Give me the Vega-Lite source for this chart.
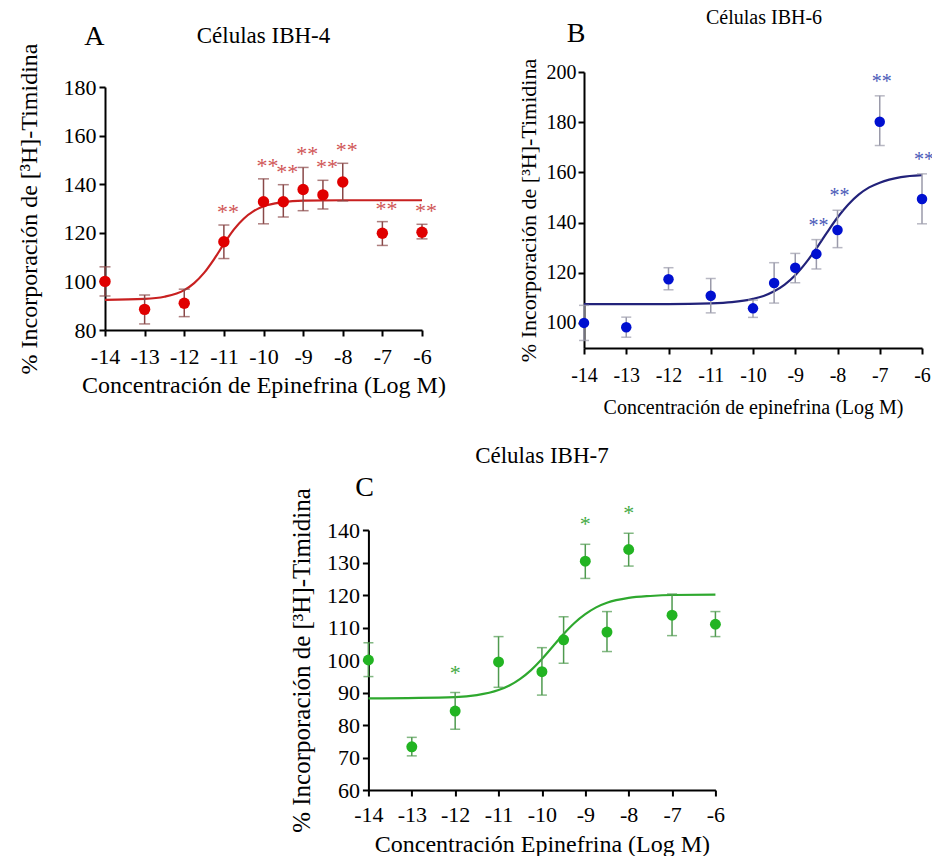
{
  "$schema": "https://vega.github.io/schema/vega-lite/v6.json",
  "padding": {"left": 16, "top": 0, "right": 0, "bottom": 0},
  "config": {
    "font": "Liberation Serif",
    "view": {"stroke": null},
    "axis": {"domainColor": "black", "domainWidth": 2, "tickColor": "black", "tickWidth": 2, "tickSize": 6, "labelColor": "black", "titleColor": "black", "grid": false, "labelFontWeight": "normal", "titleFontWeight": "normal", "labelFont": "Liberation Serif", "titleFont": "Liberation Serif"},
    "title": {"font": "Liberation Serif", "fontWeight": "normal", "color": "black"},
    "text": {"font": "Liberation Serif"}
  },
  "vconcat": [
    {
      "hconcat": [
        {
          "width": 317,
          "height": 243,
          "title": {"text": "Células IBH-4", "fontSize": 23, "offset": -25},
          "data": {"values": [
            {"c": -14, "m": 100, "lo": 94, "hi": 106, "s": ""},
            {"c": -13, "m": 88.5, "lo": 82.5, "hi": 94.4, "s": ""},
            {"c": -12, "m": 91, "lo": 85.5, "hi": 96.8, "s": ""},
            {"c": -11, "m": 116.3, "lo": 109.4, "hi": 123.2, "s": "**"},
            {"c": -10, "m": 132.8, "lo": 123.7, "hi": 142.2, "s": "**"},
            {"c": -9.5, "m": 132.8, "lo": 126.5, "hi": 139.8, "s": "**"},
            {"c": -9, "m": 137.8, "lo": 129.1, "hi": 146.9, "s": "**"},
            {"c": -8.5, "m": 135.6, "lo": 129.8, "hi": 141.6, "s": "**"},
            {"c": -8, "m": 140.9, "lo": 133.1, "hi": 148.6, "s": "**"},
            {"c": -7, "m": 119.8, "lo": 114.8, "hi": 124.6, "s": "**"},
            {"c": -6, "m": 120.2, "lo": 117.5, "hi": 123.5, "s": "**"}
          ]},
          "encoding": {
            "x": {"field": "c", "type": "quantitative", "scale": {"domain": [-14, -6], "nice": false, "zero": false},
              "axis": {"values": [-14, -13, -12, -11, -10, -9, -8, -7, -6], "labelExpr": "'' + datum.value", "labelFont": "Liberation Serif", "labelFontSize": 22, "labelPadding": 10, "labelOverlap": false, "labelFlush": false, "title": ["Concentración de Epinefrina (Log M)", ""], "titleLineHeight": 5, "titleFont": "Liberation Serif", "titleFontSize": 24, "titlePadding": 6}},
            "y": {"field": "m", "type": "quantitative", "scale": {"domain": [80, 180], "nice": false, "zero": false},
              "axis": {"values": [80, 100, 120, 140, 160, 180], "labelFont": "Liberation Serif", "labelFontSize": 22, "labelPadding": 3, "labelOverlap": false, "labelFlush": false, "title": "% Incorporación de [³H]-Timidina", "titleFont": "Liberation Serif", "titleFontSize": 24, "titlePadding": 22}}
          },
          "layer": [
            {
              "data": {"values": [
                {"c": -14, "m": 92.4}, {"c": -13, "m": 92.8}, {"c": -12.5, "m": 93.7}, {"c": -12, "m": 96.4},
                {"c": -11.75, "m": 99.3}, {"c": -11.5, "m": 103.5}, {"c": -11.25, "m": 109.1}, {"c": -11, "m": 115.4},
                {"c": -10.75, "m": 121.3}, {"c": -10.5, "m": 125.8}, {"c": -10.25, "m": 128.9}, {"c": -10, "m": 130.9},
                {"c": -9.5, "m": 132.6}, {"c": -9, "m": 133.2}, {"c": -8, "m": 133.4}, {"c": -7, "m": 133.4}, {"c": -6, "m": 133.4}
              ]},
              "mark": {"type": "line", "interpolate": "monotone", "color": "#c82020", "strokeWidth": 2.2},
              "encoding": {}
            },
            {
              "mark": {"type": "errorbar", "ticks": {"size": 11}, "color": "#8a4848", "thickness": 1.5},
              "encoding": {
                "y": {"field": "lo", "type": "quantitative", "scale": {"domain": [80, 180], "nice": false, "zero": false},
                  "axis": {"values": [80, 100, 120, 140, 160, 180], "labelFont": "Liberation Serif", "labelFontSize": 22, "labelPadding": 3, "labelOverlap": false, "labelFlush": false, "title": "% Incorporación de [³H]-Timidina", "titleFont": "Liberation Serif", "titleFontSize": 24, "titlePadding": 22}},
                "y2": {"field": "hi"}
              }
            },
            {
              "mark": {"type": "circle", "size": 130, "opacity": 1, "color": "#e00000"}
            },
            {
              "mark": {"type": "text", "fontSize": 22, "color": "#d05555", "dx": 4, "dy": -1, "baseline": "bottom"},
              "encoding": {
                "y": {"field": "hi", "type": "quantitative", "scale": {"domain": [80, 180], "nice": false, "zero": false},
                  "axis": {"values": [80, 100, 120, 140, 160, 180], "labelFont": "Liberation Serif", "labelFontSize": 22, "labelPadding": 3, "labelOverlap": false, "labelFlush": false, "title": "% Incorporación de [³H]-Timidina", "titleFont": "Liberation Serif", "titleFontSize": 24, "titlePadding": 22}},
                "text": {"field": "s"}
              }
            },
            {
              "data": {"values": [{"c": -14.27, "m": 200.6, "t": "A"}]},
              "mark": {"type": "text", "fontSize": 28, "color": "black", "baseline": "middle", "clip": false},
              "encoding": {"text": {"field": "t"}}
            }
          ]
        },
        {
          "width": 404,
          "height": 276,
          "title": {"text": ["", "Células IBH-6"], "lineHeight": 8, "fontSize": 20, "offset": -8, "anchor": "start", "frame": "group", "dx": 122},
          "data": {"values": [
            {"c": -14, "m": 100, "lo": 93, "hi": 107, "s": ""},
            {"c": -13, "m": 98.3, "lo": 94.3, "hi": 102.3, "s": ""},
            {"c": -12, "m": 117.4, "lo": 113.2, "hi": 122, "s": ""},
            {"c": -11, "m": 110.8, "lo": 104, "hi": 117.7, "s": ""},
            {"c": -10, "m": 105.8, "lo": 102.2, "hi": 109.1, "s": ""},
            {"c": -9.5, "m": 115.9, "lo": 107.9, "hi": 124, "s": ""},
            {"c": -9, "m": 122, "lo": 116, "hi": 127.7, "s": ""},
            {"c": -8.5, "m": 127.5, "lo": 121.5, "hi": 133.2, "s": "**"},
            {"c": -8, "m": 137, "lo": 130, "hi": 144.9, "s": "**"},
            {"c": -7, "m": 180.2, "lo": 170.7, "hi": 190.5, "s": "**"},
            {"c": -6, "m": 149.4, "lo": 139.5, "hi": 159.4, "s": "**"}
          ]},
          "encoding": {
            "x": {"field": "c", "type": "quantitative", "scale": {"domain": [-14, -6], "range": [0, 338], "nice": false, "zero": false},
              "axis": {"values": [-14, -13, -12, -11, -10, -9, -8, -7, -6], "labelExpr": "'' + datum.value", "labelFont": "Liberation Serif", "labelFontSize": 20, "labelPadding": 11, "labelOverlap": false, "labelFlush": false, "title": "Concentración de epinefrina (Log M)", "titleFont": "Liberation Serif", "titleFontSize": 20, "titlePadding": 12}},
            "y": {"field": "m", "type": "quantitative", "scale": {"domain": [90, 200], "nice": false, "zero": false},
              "axis": {"values": [100, 120, 140, 160, 180, 200], "labelFont": "Liberation Serif", "labelFontSize": 20, "labelPadding": 2, "labelOverlap": false, "labelFlush": false, "title": "% Incorporación de [³H]-Timidina", "titleFont": "Liberation Serif", "titleFontSize": 22, "titlePadding": 6}}
          },
          "layer": [
            {
              "data": {"values": [
                {"c": -14, "m": 107.5}, {"c": -12, "m": 107.5}, {"c": -11, "m": 107.8}, {"c": -10.5, "m": 108.3},
                {"c": -10, "m": 109.6}, {"c": -9.75, "m": 110.75}, {"c": -9.5, "m": 112.6}, {"c": -9.25, "m": 115.3},
                {"c": -9, "m": 119.0}, {"c": -8.75, "m": 123.9}, {"c": -8.5, "m": 129.7}, {"c": -8.25, "m": 136.0},
                {"c": -8, "m": 142.0}, {"c": -7.75, "m": 147.1}, {"c": -7.5, "m": 151.1}, {"c": -7.25, "m": 154.0},
                {"c": -7, "m": 155.9}, {"c": -6.5, "m": 158.1}, {"c": -6, "m": 158.9}
              ]},
              "mark": {"type": "line", "interpolate": "monotone", "color": "#22227a", "strokeWidth": 2.2},
              "encoding": {}
            },
            {
              "mark": {"type": "errorbar", "ticks": {"size": 10}, "color": "#9a9aaa", "thickness": 1.5},
              "encoding": {
                "y": {"field": "lo", "type": "quantitative", "scale": {"domain": [90, 200], "nice": false, "zero": false},
                  "axis": {"values": [100, 120, 140, 160, 180, 200], "labelFont": "Liberation Serif", "labelFontSize": 20, "labelPadding": 2, "labelOverlap": false, "labelFlush": false, "title": "% Incorporación de [³H]-Timidina", "titleFont": "Liberation Serif", "titleFontSize": 22, "titlePadding": 6}},
                "y2": {"field": "hi"}
              }
            },
            {
              "mark": {"type": "circle", "size": 110, "opacity": 1, "color": "#0010d0"}
            },
            {
              "mark": {"type": "text", "fontSize": 20, "color": "#4a5ab8", "dx": 2, "dy": -4, "baseline": "bottom"},
              "encoding": {
                "y": {"field": "hi", "type": "quantitative", "scale": {"domain": [90, 200], "nice": false, "zero": false},
                  "axis": {"values": [100, 120, 140, 160, 180, 200], "labelFont": "Liberation Serif", "labelFontSize": 20, "labelPadding": 2, "labelOverlap": false, "labelFlush": false, "title": "% Incorporación de [³H]-Timidina", "titleFont": "Liberation Serif", "titleFontSize": 22, "titlePadding": 6}},
                "text": {"field": "s"}
              }
            },
            {
              "data": {"values": [{"c": -14.19, "m": 215, "t": "B"}]},
              "mark": {"type": "text", "fontSize": 28, "color": "black", "baseline": "middle", "clip": false},
              "encoding": {"text": {"field": "t"}}
            }
          ]
        }
      ],
      "spacing": 70,
      "center": true
    },
    {
      "width": 347,
      "height": 260,
      "title": {"text": "Células IBH-7", "fontSize": 23, "offset": 6},
      "data": {"values": [
        {"c": -14, "m": 100, "lo": 94.9, "hi": 105.3, "s": ""},
        {"c": -13, "m": 73.3, "lo": 70.5, "hi": 76.2, "s": ""},
        {"c": -12, "m": 84.3, "lo": 78.7, "hi": 90, "s": "*"},
        {"c": -11, "m": 99.4, "lo": 91.6, "hi": 107.2, "s": ""},
        {"c": -10, "m": 96.4, "lo": 89.2, "hi": 103.8, "s": ""},
        {"c": -9.5, "m": 106.2, "lo": 99, "hi": 113.3, "s": ""},
        {"c": -9, "m": 130.4, "lo": 125.1, "hi": 135.6, "s": "*"},
        {"c": -8.5, "m": 108.6, "lo": 102.6, "hi": 114.9, "s": ""},
        {"c": -8, "m": 134, "lo": 128.9, "hi": 139, "s": "*"},
        {"c": -7, "m": 113.8, "lo": 107.5, "hi": 120.3, "s": ""},
        {"c": -6, "m": 111, "lo": 107.2, "hi": 114.9, "s": ""}
      ]},
      "encoding": {
        "x": {"field": "c", "type": "quantitative", "scale": {"domain": [-14, -6], "nice": false, "zero": false},
          "axis": {"values": [-14, -13, -12, -11, -10, -9, -8, -7, -6], "labelExpr": "'' + datum.value", "labelFont": "Liberation Serif", "labelFontSize": 22, "labelPadding": 8, "labelOverlap": false, "labelFlush": false, "title": "Concentración Epinefrina (Log M)", "titleFont": "Liberation Serif", "titleFontSize": 24, "titlePadding": 7}},
        "y": {"field": "m", "type": "quantitative", "scale": {"domain": [60, 140], "nice": false, "zero": false},
          "axis": {"values": [60, 70, 80, 90, 100, 110, 120, 130, 140], "labelFont": "Liberation Serif", "labelFontSize": 22, "labelPadding": 3, "labelOverlap": false, "labelFlush": false, "title": "% Incorporación de [³H]-Timidina", "titleFont": "Liberation Serif", "titleFontSize": 25, "titlePadding": 12}}
      },
      "layer": [
        {
          "data": {"values": [
            {"c": -14, "m": 88.2}, {"c": -12, "m": 88.6}, {"c": -11.5, "m": 89.2}, {"c": -11, "m": 90.75},
            {"c": -10.75, "m": 92.15}, {"c": -10.5, "m": 94.2}, {"c": -10.25, "m": 96.9}, {"c": -10, "m": 100.3},
            {"c": -9.75, "m": 104.15}, {"c": -9.5, "m": 108.0}, {"c": -9.25, "m": 111.4}, {"c": -9, "m": 114.1},
            {"c": -8.75, "m": 116.2}, {"c": -8.5, "m": 117.6}, {"c": -8, "m": 119.1}, {"c": -7.5, "m": 119.7},
            {"c": -7, "m": 120.0}, {"c": -6, "m": 120.1}
          ]},
          "mark": {"type": "line", "interpolate": "monotone", "color": "#2ea82e", "strokeWidth": 2.2},
          "encoding": {}
        },
        {
          "mark": {"type": "errorbar", "ticks": {"size": 10}, "color": "#4f9a4f", "thickness": 1.5},
          "encoding": {
            "y": {"field": "lo", "type": "quantitative", "scale": {"domain": [60, 140], "nice": false, "zero": false},
              "axis": {"values": [60, 70, 80, 90, 100, 110, 120, 130, 140], "labelFont": "Liberation Serif", "labelFontSize": 22, "labelPadding": 3, "labelOverlap": false, "labelFlush": false, "title": "% Incorporación de [³H]-Timidina", "titleFont": "Liberation Serif", "titleFontSize": 25, "titlePadding": 12}},
            "y2": {"field": "hi"}
          }
        },
        {
          "mark": {"type": "circle", "size": 120, "opacity": 1, "color": "#22b422"}
        },
        {
          "mark": {"type": "text", "fontSize": 22, "color": "#44aa44", "dx": 0, "dy": -8, "baseline": "bottom"},
          "encoding": {
            "y": {"field": "hi", "type": "quantitative", "scale": {"domain": [60, 140], "nice": false, "zero": false},
              "axis": {"values": [60, 70, 80, 90, 100, 110, 120, 130, 140], "labelFont": "Liberation Serif", "labelFontSize": 22, "labelPadding": 3, "labelOverlap": false, "labelFlush": false, "title": "% Incorporación de [³H]-Timidina", "titleFont": "Liberation Serif", "titleFontSize": 25, "titlePadding": 12}},
            "text": {"field": "s"}
          }
        },
        {
          "data": {"values": [{"c": -14.09, "m": 152.9, "t": "C"}]},
          "mark": {"type": "text", "fontSize": 28, "color": "black", "baseline": "middle", "clip": false},
          "encoding": {"text": {"field": "t"}}
        }
      ]
    }
  ],
  "spacing": 28,
  "center": true
}
